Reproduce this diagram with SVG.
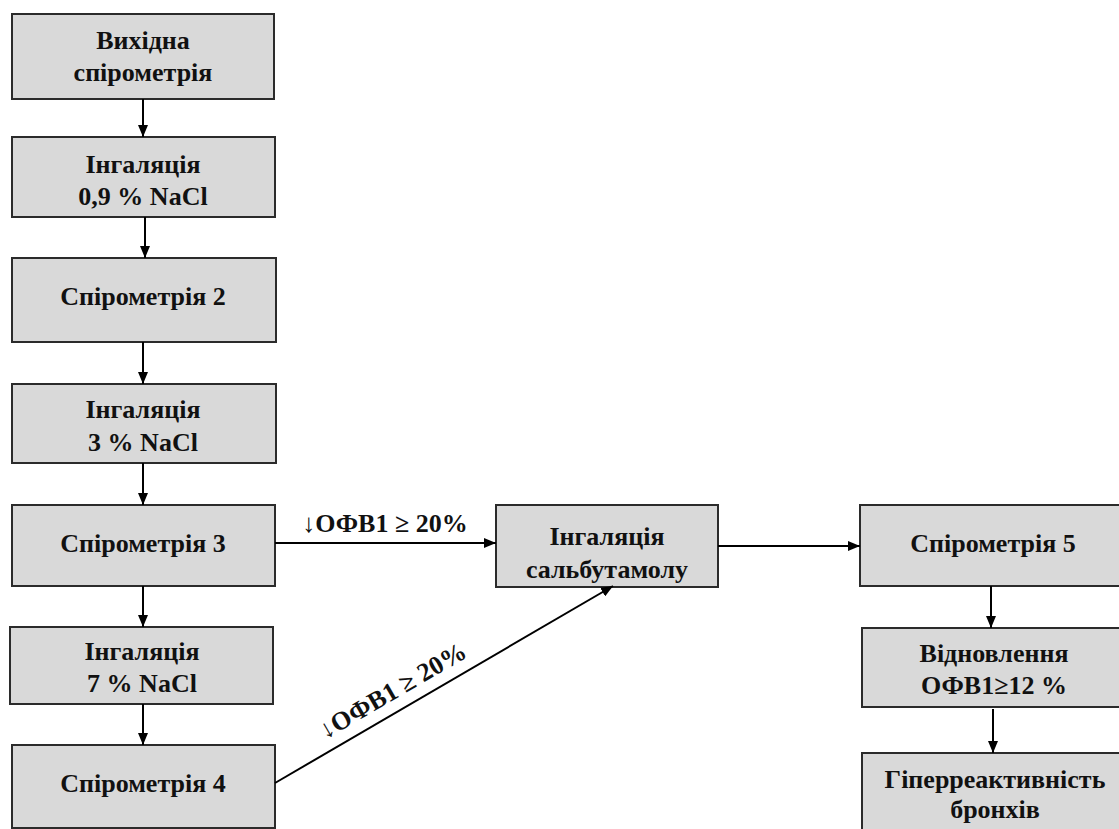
<svg xmlns="http://www.w3.org/2000/svg" width="1119" height="829" viewBox="0 0 1119 829">
  <style>
    .box { fill: #d9d9d9; stroke: #2b2b2b; stroke-width: 2; }
    text { font-family: "Liberation Serif", "Times New Roman", serif; font-weight: bold; font-size: 26px; fill: #111; text-anchor: middle; }
    .conn { stroke: #000; stroke-width: 2; fill: none; marker-end: url(#arr); }
  </style>
  <defs>
    <marker id="arr" viewBox="0 0 12 10" refX="12" refY="5" markerWidth="12" markerHeight="10" markerUnits="userSpaceOnUse" orient="auto">
      <path d="M0,0 L12,5 L0,10 Z" fill="#000"/>
    </marker>
  </defs>
  <rect width="1119" height="829" fill="#fff"/>

  <g id="n1">
    <rect class="box" x="12" y="14" width="262" height="85"/>
    <text x="143" y="49">Вихідна</text>
    <text x="143" y="81">спірометрія</text>
  </g>
  <g id="n2">
    <rect class="box" x="12" y="137" width="263" height="80"/>
    <text x="143" y="173">Інгаляція</text>
    <text x="143" y="205">0,9 % NaCl</text>
  </g>
  <g id="n3">
    <rect class="box" x="12" y="258" width="264" height="84"/>
    <text x="143" y="305">Спірометрія 2</text>
  </g>
  <g id="n4">
    <rect class="box" x="12" y="384" width="264" height="79"/>
    <text x="143" y="418">Інгаляція</text>
    <text x="143" y="451">3 % NaCl</text>
  </g>
  <g id="n5">
    <rect class="box" x="12" y="505" width="263" height="81"/>
    <text x="143" y="552">Спірометрія 3</text>
  </g>
  <g id="n6">
    <rect class="box" x="10" y="627" width="263" height="77"/>
    <text x="142" y="660">Інгаляція</text>
    <text x="142" y="692">7 % NaCl</text>
  </g>
  <g id="n7">
    <rect class="box" x="12" y="745" width="263" height="83"/>
    <text x="143" y="792">Спірометрія 4</text>
  </g>
  <g id="n8">
    <rect class="box" x="496" y="505" width="222" height="82"/>
    <text x="607" y="545">Інгаляція</text>
    <text x="607" y="578">сальбутамолу</text>
  </g>
  <g id="n9">
    <rect class="box" x="860" y="505" width="268" height="81"/>
    <text x="993" y="552">Спірометрія 5</text>
  </g>
  <g id="n10">
    <rect class="box" x="862" y="628" width="266" height="79"/>
    <text x="994" y="662">Відновлення</text>
    <text x="994" y="694">ОФВ1≥12 %</text>
  </g>
  <g id="n11">
    <rect class="box" x="862" y="753" width="266" height="85"/>
    <text x="995" y="788">Гіперреактивність</text>
    <text x="995" y="818">бронхів</text>
  </g>

  <g id="connectors">
    <line class="conn" x1="143" y1="99" x2="143" y2="137"/>
    <line class="conn" x1="145" y1="217" x2="145" y2="258"/>
    <line class="conn" x1="143" y1="342" x2="143" y2="384"/>
    <line class="conn" x1="143" y1="463" x2="143" y2="505"/>
    <line class="conn" x1="143" y1="586" x2="143" y2="627"/>
    <line class="conn" x1="143" y1="704" x2="143" y2="745"/>
    <line class="conn" x1="275" y1="543" x2="496" y2="543"/>
    <line class="conn" x1="275" y1="783" x2="613" y2="586"/>
    <line class="conn" x1="718" y1="546" x2="860" y2="546"/>
    <line class="conn" x1="991" y1="586" x2="991" y2="628"/>
    <line class="conn" x1="993" y1="709" x2="993" y2="753"/>
    <text x="385" y="532">↓ОФВ1 ≥ 20%</text>
    <text x="397" y="698" transform="rotate(-30.2 397 698)">↓ОФВ1 ≥ 20%</text>
  </g>
</svg>
